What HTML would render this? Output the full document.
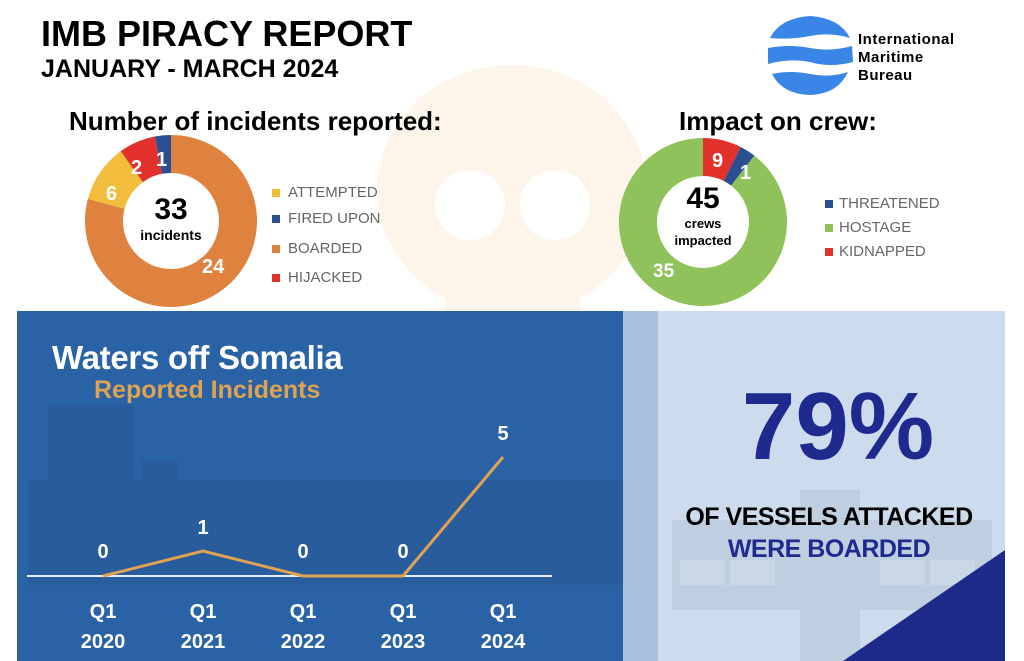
<!DOCTYPE html>
<html><head><meta charset="utf-8"><style>
body{margin:0;width:1024px;height:661px;overflow:hidden;background:#fff;font-family:"Liberation Sans",Arial,sans-serif;position:relative}
.a{position:absolute;white-space:nowrap}
</style></head><body>
<svg class="a" style="left:0;top:0" width="1024" height="661">
<g fill="#fdf5ea">
<ellipse cx="512" cy="190" rx="135" ry="125"/>
<rect x="445" y="250" width="135" height="61"/>
</g>
<g fill="#fff"><circle cx="470" cy="205" r="35"/><circle cx="555" cy="205" r="35"/></g>
<g transform="translate(171,221)">
<path d="M0,-86 A86,86 0 1,1 -83.1,-22.1 L-46.4,-12.3 A48,48 0 1,0 0,-48Z" fill="#e0823f"/>
<path d="M-83.1,-22.1 A86,86 0 0,1 -50.3,-69.8 L-28.1,-38.9 A48,48 0 0,0 -46.4,-12.3Z" fill="#f2bd3c"/>
<path d="M-50.3,-69.8 A86,86 0 0,1 -16.2,-84.5 L-9,-47.2 A48,48 0 0,0 -28.1,-38.9Z" fill="#e2302b"/>
<path d="M-16.2,-84.5 A86,86 0 0,1 0,-86 L0,-48 A48,48 0 0,0 -9,-47.2Z" fill="#2c4f94"/>
</g>
<g transform="translate(703,222)">
<path d="M0,-84 A84,84 0 0,1 37.7,-75 L20.7,-41.1 A46,46 0 0,0 0,-46Z" fill="#e2302b"/>
<path d="M37.7,-75 A84,84 0 0,1 51.4,-66.4 L28.1,-36.4 A46,46 0 0,0 20.7,-41.1Z" fill="#2c4f94"/>
<path d="M51.4,-66.4 A84,84 0 1,1 0,-84 L0,-46 A46,46 0 1,0 28.1,-36.4Z" fill="#8fc25a"/>
</g>
<g fill="#3a86e6">
<path d="M770,38 Q780,18 810,16 Q840,18 850,38 Q830,32 810,36 Q790,40 770,38Z"/>
<path d="M768,48 Q790,44 810,48 Q830,52 852,46 L853,62 Q830,68 810,62 Q790,58 768,64Z"/>
<path d="M772,74 Q790,70 810,74 Q830,78 848,72 Q838,94 810,95 Q782,94 772,74Z"/>
</g>
<rect x="17" y="311" width="606" height="350" fill="#2a62a6"/>
<g fill="#285c9c">
<rect x="48" y="405" width="85" height="120"/>
<rect x="28" y="480" width="600" height="105"/>
<rect x="142" y="460" width="35" height="20"/>
</g>
<rect x="623" y="311" width="35" height="350" fill="#a8c2de"/>
<rect x="658" y="311" width="347" height="350" fill="#cddcec"/>
<g fill="#c0cfdf">
<rect x="800" y="490" width="60" height="171"/>
<rect x="672" y="520" width="320" height="90"/>
</g>
<g fill="#c9d7e6"><rect x="680" y="560" width="45" height="25"/><rect x="730" y="560" width="45" height="25"/><rect x="880" y="560" width="45" height="25"/><rect x="930" y="560" width="45" height="25"/></g>
<path d="M843,661 L1005,550 L1005,661Z" fill="#1e2a8a"/>
<line x1="27" y1="576" x2="552" y2="576" stroke="#e8eef6" stroke-width="2"/>
<polyline points="103,576 203,551 303,576 403,576 503,457" fill="none" stroke="#e0a351" stroke-width="3"/>
</svg>
<div class="a" style="left:41px;top:13px;font-size:36px;font-weight:bold">IMB PIRACY REPORT</div>
<div class="a" style="left:41px;top:55px;font-size:25px;font-weight:bold">JANUARY - MARCH 2024</div>
<div class="a" style="left:858px;top:31px;font-size:15px;font-weight:bold;line-height:18px;letter-spacing:0.5px">International<br>Maritime<br>Bureau</div>
<div class="a" style="left:69px;top:106px;font-size:26px;font-weight:bold">Number of incidents reported:</div>
<div class="a" style="left:679px;top:106px;font-size:26px;font-weight:bold">Impact on crew:</div>
<div class="a" style="left:171px;top:193px;transform:translateX(-50%);font-size:30px;font-weight:bold">33</div>
<div class="a" style="left:171px;top:227px;transform:translateX(-50%);font-size:14px;font-weight:bold">incidents</div>
<div class="a" style="left:106px;top:183px;font-size:20px;font-weight:bold;color:#fff">6</div>
<div class="a" style="left:131px;top:157px;font-size:20px;font-weight:bold;color:#fff">2</div>
<div class="a" style="left:156px;top:149px;font-size:20px;font-weight:bold;color:#fff">1</div>
<div class="a" style="left:202px;top:256px;font-size:20px;font-weight:bold;color:#fff">24</div>
<div class="a" style="left:703px;top:182px;transform:translateX(-50%);font-size:30px;font-weight:bold">45</div>
<div class="a" style="left:703px;top:215px;transform:translateX(-50%);font-size:13px;font-weight:bold;text-align:center;line-height:17px">crews<br>impacted</div>
<div class="a" style="left:712px;top:150px;font-size:20px;font-weight:bold;color:#fff">9</div>
<div class="a" style="left:740px;top:162px;font-size:20px;font-weight:bold;color:#fff">1</div>
<div class="a" style="left:653px;top:261px;font-size:19px;font-weight:bold;color:#fff">35</div>
<div class="a" style="left:272px;top:179px;font-size:15px;color:#666;line-height:28px">
<div><span style="display:inline-block;width:8px;height:8px;background:#f2bd3c;margin-right:8px"></span>ATTEMPTED</div>
<div style="margin-top:-2px"><span style="display:inline-block;width:8px;height:8px;background:#2c4f94;margin-right:8px"></span>FIRED UPON</div>
<div style="margin-top:2px"><span style="display:inline-block;width:8px;height:8px;background:#e0823f;margin-right:8px"></span>BOARDED</div>
<div style="margin-top:1px"><span style="display:inline-block;width:8px;height:8px;background:#e2302b;margin-right:8px"></span>HIJACKED</div>
</div>
<div class="a" style="left:825px;top:192px;font-size:15px;color:#666;line-height:24px">
<div><span style="display:inline-block;width:8px;height:8px;background:#2c4f94;margin-right:6px"></span>THREATENED</div>
<div><span style="display:inline-block;width:8px;height:8px;background:#8fc25a;margin-right:6px"></span>HOSTAGE</div>
<div><span style="display:inline-block;width:8px;height:8px;background:#e2302b;margin-right:6px"></span>KIDNAPPED</div>
</div>
<div class="a" style="left:52px;top:339px;font-size:33px;font-weight:bold;color:#fff;letter-spacing:-0.3px">Waters off Somalia</div>
<div class="a" style="left:94px;top:376px;font-size:25px;font-weight:bold;color:#e0a351">Reported Incidents</div>
<div class="a" style="left:103px;top:541px;transform:translateX(-50%);font-size:20px;font-weight:bold;color:#fff">0</div>
<div class="a" style="left:203px;top:517px;transform:translateX(-50%);font-size:20px;font-weight:bold;color:#fff">1</div>
<div class="a" style="left:303px;top:541px;transform:translateX(-50%);font-size:20px;font-weight:bold;color:#fff">0</div>
<div class="a" style="left:403px;top:541px;transform:translateX(-50%);font-size:20px;font-weight:bold;color:#fff">0</div>
<div class="a" style="left:503px;top:423px;transform:translateX(-50%);font-size:20px;font-weight:bold;color:#fff">5</div>
<div class="a" style="left:103px;top:597px;transform:translateX(-50%);font-size:20px;font-weight:bold;color:#fff;text-align:center;line-height:30px">Q1<br>2020</div>
<div class="a" style="left:203px;top:597px;transform:translateX(-50%);font-size:20px;font-weight:bold;color:#fff;text-align:center;line-height:30px">Q1<br>2021</div>
<div class="a" style="left:303px;top:597px;transform:translateX(-50%);font-size:20px;font-weight:bold;color:#fff;text-align:center;line-height:30px">Q1<br>2022</div>
<div class="a" style="left:403px;top:597px;transform:translateX(-50%);font-size:20px;font-weight:bold;color:#fff;text-align:center;line-height:30px">Q1<br>2023</div>
<div class="a" style="left:503px;top:597px;transform:translateX(-50%);font-size:20px;font-weight:bold;color:#fff;text-align:center;line-height:30px">Q1<br>2024</div>
<div class="a" style="left:838px;top:372px;transform:translateX(-50%);font-size:96px;font-weight:bold;color:#1f2a8f">79%</div>
<div class="a" style="left:829px;top:503px;transform:translateX(-50%);font-size:25px;font-weight:bold;color:#000;letter-spacing:-0.5px">OF VESSELS ATTACKED</div>
<div class="a" style="left:829px;top:535px;transform:translateX(-50%);font-size:25px;font-weight:bold;color:#1f2a8f;letter-spacing:-0.5px">WERE BOARDED</div>
</body></html>
